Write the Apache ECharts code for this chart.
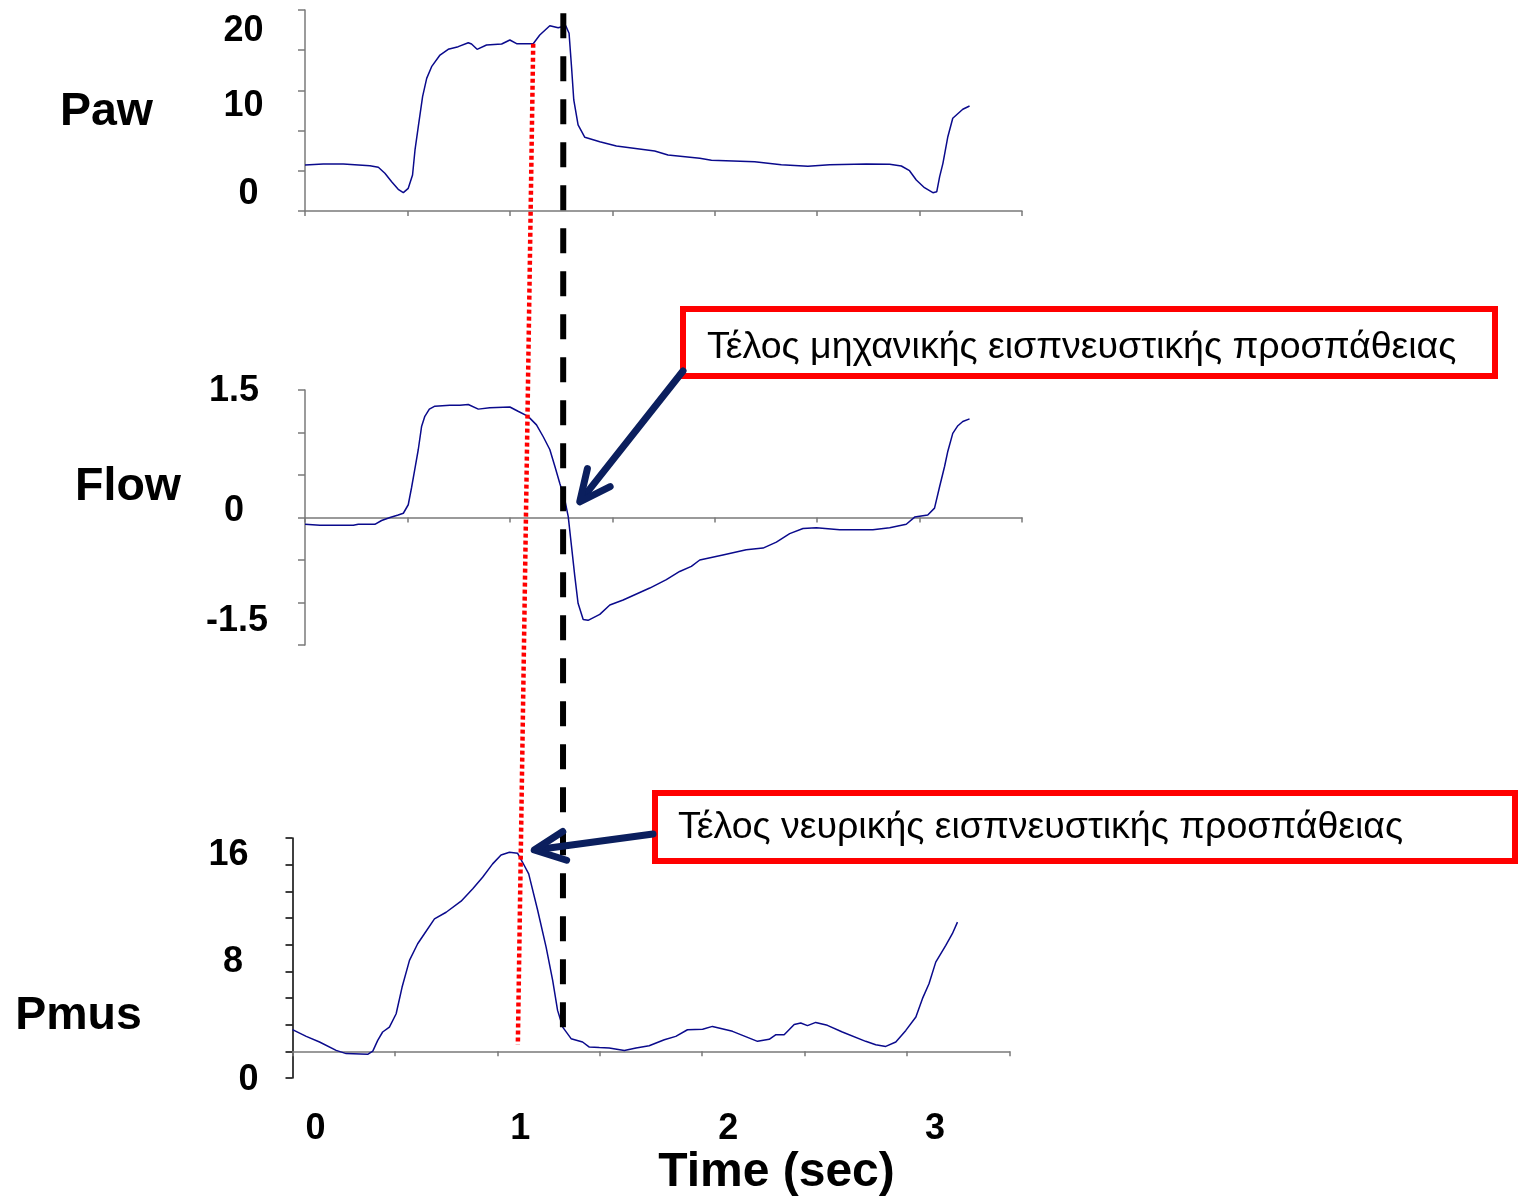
<!DOCTYPE html>
<html>
<head>
<meta charset="utf-8">
<title>Paw / Flow / Pmus</title>
<script src="https://cdn.jsdelivr.net/npm/echarts@6/dist/echarts.min.js"></script>
<style>
  html, body { margin: 0; padding: 0; background: #fff; }
  #chart { width: 1520px; height: 1201px; }
</style>
</head>
<body>
<div id="chart"></div>
<script>
// ---- data (time in sec from the start of each trace) ----
const pawTime = [0, 0.089, 0.187, 0.317, 0.358, 0.39, 0.423, 0.455, 0.48, 0.504, 0.525, 0.537, 0.553, 0.574, 0.594,
  0.618, 0.659, 0.699, 0.748, 0.797, 0.813, 0.84, 0.886, 0.96, 1.0, 1.033, 1.114, 1.146, 1.195, 1.236,
  1.273, 1.289, 1.301, 1.312, 1.333, 1.366, 1.439, 1.52, 1.707, 1.772, 1.927, 1.984, 2.195, 2.325, 2.455,
  2.561, 2.74, 2.854, 2.911, 2.951, 2.984, 3.024, 3.065, 3.084, 3.098, 3.114, 3.138, 3.162, 3.211, 3.244];
const pawValue = [5.72, 5.85, 5.85, 5.63, 5.44, 4.69, 3.64, 2.70, 2.28, 2.82, 4.48, 7.59, 10.49, 14.22, 16.5,
  17.95, 19.4, 20.11, 20.44, 20.93, 20.77, 20.11, 20.65, 20.77, 21.27, 20.81, 20.81, 21.89, 23.05, 22.8,
  23.05, 22.1, 17.95, 13.81, 10.7, 9.17, 8.62, 8.08, 7.46, 6.97, 6.55, 6.31, 6.13, 5.76, 5.56,
  5.76, 5.85, 5.81, 5.6, 5.01, 3.86, 2.9, 2.28, 2.4, 4.27, 5.93, 9.24, 11.53, 12.65, 13.06];

const flowTime = [0, 0.073, 0.236, 0.26, 0.341, 0.374, 0.415, 0.455, 0.48, 0.504, 0.52, 0.537, 0.553, 0.569, 0.585,
  0.607, 0.634, 0.707, 0.756, 0.797, 0.846, 0.902, 1.0, 1.04, 1.089, 1.13, 1.163, 1.195, 1.22, 1.244,
  1.268, 1.285, 1.301, 1.317, 1.333, 1.358, 1.382, 1.439, 1.488, 1.553, 1.683, 1.764, 1.829, 1.886, 1.927,
  2.04, 2.154, 2.236, 2.301, 2.366, 2.431, 2.496, 2.61, 2.772, 2.854, 2.935, 2.976, 3.04, 3.073, 3.098,
  3.122, 3.138, 3.162, 3.187, 3.211, 3.244];
const flowValue = [-0.08, -0.09, -0.09, -0.08, -0.08, -0.035, 0, 0.03, 0.05, 0.15, 0.35, 0.58, 0.8, 1.07, 1.19,
  1.275, 1.31, 1.32, 1.32, 1.33, 1.275, 1.29, 1.3, 1.25, 1.19, 1.09, 0.95, 0.8, 0.6, 0.4,
  0.21, 0.01, -0.34, -0.69, -1.01, -1.2, -1.21, -1.14, -1.03, -0.97, -0.83, -0.73, -0.635, -0.575, -0.5,
  -0.44, -0.38, -0.36, -0.29, -0.19, -0.13, -0.12, -0.145, -0.145, -0.12, -0.08, 0.005, 0.03, 0.11, 0.365,
  0.6, 0.78, 0.99, 1.08, 1.13, 1.16];

const pmusTime = [0, 0.067, 0.132, 0.213, 0.262, 0.367, 0.392, 0.416, 0.44, 0.473, 0.506, 0.535, 0.571, 0.611, 0.644,
  0.693, 0.75, 0.823, 0.88, 0.928, 0.977, 1.018, 1.059, 1.099, 1.123, 1.153, 1.197, 1.238, 1.27, 1.294,
  1.319, 1.36, 1.416, 1.449, 1.498, 1.546, 1.62, 1.677, 1.741, 1.815, 1.871, 1.928, 2.002, 2.05, 2.148,
  2.27, 2.327, 2.36, 2.4, 2.449, 2.481, 2.514, 2.554, 2.611, 2.684, 2.798, 2.847, 2.896, 2.945, 2.994,
  3.043, 3.075, 3.107, 3.14, 3.189, 3.221, 3.246];
const pmusValue = [1.63, 1.12, 0.7, 0.07, -0.17, -0.22, 0.02, 0.82, 1.45, 1.82, 2.82, 4.82, 6.82, 8.07, 8.82,
  9.94, 10.43, 11.26, 12.19, 13.06, 14.06, 14.73, 14.93, 14.85, 14.18, 13.31, 10.56, 7.81, 5.32, 3.07,
  1.82, 0.95, 0.7, 0.32, 0.28, 0.25, 0.07, 0.25, 0.42, 0.87, 1.12, 1.62, 1.65, 1.87, 1.5,
  0.75, 0.9, 1.25, 1.25, 2.02, 2.12, 1.93, 2.17, 1.95, 1.45, 0.75, 0.5, 0.37, 0.7, 1.57,
  2.57, 3.95, 5.07, 6.69, 7.94, 8.82, 9.69];

// tick labels shown on the slide
const timeLabels = [0, 1, 2, 3];
const pawLabels = [0, 10, 20];
const flowLabels = [-1.5, 0, 1.5];
const pmusLabels = [0, 8, 16];

// annotation anchors, [time, value] in the panel they sit in
const neuralEndPaw = [1.114, 20.81];   // red dotted line starts on Paw
const neuralEndPmus = [1.10, 0.5];     // ... and ends in the Pmus panel
const mechEndPaw = [1.261, 24.6];      // black dashed line
const mechEndPmus = [1.32, 0.6];
const mechArrowTip = [1.341, 0.185];   // Flow panel
const neuralArrowTip = [1.18, 15.1];   // Pmus panel

const mechText = 'Τέλος μηχανικής εισπνευστικής προσπάθειας';
const neuralText = 'Τέλος νευρικής εισπνευστικής προσπάθειας';

// ---- styling helpers ----
const FONT = '"Liberation Sans", Arial, sans-serif';
const NAVY = '#0b1f5e';
const TRACE = '#0a0a8c';
const GREY = '#7a7a7a';

const zip = (xs, ys) => xs.map((x, i) => [x, ys[i]]);

// shift a single axis label by (dx, dy) px using rich-text padding
function nudge(dx, dy) {
  return {
    fontSize: 36, fontWeight: 'bold', fontFamily: FONT, color: '#000',
    padding: [dy > 0 ? 2 * dy : 0, dx < 0 ? -2 * dx : 0, dy < 0 ? -2 * dy : 0, dx > 0 ? 2 * dx : 0]
  };
}
function richLabels(values, shifts) {
  const rich = {};
  values.forEach((v, i) => { rich['k' + i] = nudge(shifts[i][0], shifts[i][1]); });
  return {
    rich,
    formatter: (val) => {
      const i = values.findIndex(v => Math.abs(v - val) < 1e-6);
      return i < 0 ? '' : '{k' + i + '|' + val + '}';
    }
  };
}

function xAxisFor(gridIndex, color) {
  return {
    type: 'value', gridIndex, min: 0, max: 3.5, interval: 0.5,
    axisLine: { onZero: true, lineStyle: { color, width: 1.5 } },
    axisTick: { length: 5, lineStyle: { color, width: 1.5 } },
    axisLabel: { show: false },
    splitLine: { show: false }
  };
}
function yAxisFor(gridIndex, min, max, interval, color, margin, labels, shifts) {
  const rl = richLabels(labels, shifts);
  return {
    type: 'value', gridIndex, min, max, interval,
    axisLine: { show: true, onZero: false, lineStyle: { color, width: 1.5 } },
    axisTick: { show: true, length: 7, lineStyle: { color, width: 1.5 } },
    axisLabel: {
      customValues: labels, align: 'center', verticalAlign: 'middle', margin,
      formatter: rl.formatter, rich: rl.rich
    },
    splitLine: { show: false }
  };
}

const pmusX = xAxisFor(2, GREY);
const timeRich = richLabels(timeLabels, [[23, 0], [23, 0], [26, 0], [28, 0]]);
pmusX.axisLabel = {
  show: true, customValues: timeLabels, align: 'center', verticalAlign: 'middle', margin: 51,
  formatter: timeRich.formatter, rich: timeRich.rich
};

const lineSeries = (idx, data) => ({
  type: 'line', xAxisIndex: idx, yAxisIndex: idx, data, showSymbol: false, symbol: 'none',
  lineStyle: { color: TRACE, width: 1.5 }, silent: true
});

const option = {
  animation: false,
  backgroundColor: '#fff',
  grid: [
    { left: 305, top: 10, width: 717, height: 201, outerBoundsMode: 'none' },
    { left: 305, top: 390, width: 717, height: 255, outerBoundsMode: 'none' },
    { left: 292.5, top: 838, width: 717, height: 240, outerBoundsMode: 'none' }
  ],
  xAxis: [xAxisFor(0, GREY), xAxisFor(1, GREY), pmusX],
  yAxis: [
    yAxisFor(0, 0, 25, 5, GREY, 61.5, pawLabels, [[5, -17], [0, -24.5], [0, -19.5]]),
    yAxisFor(1, -1.5, 1.5, 0.5, GREY, 71, flowLabels, [[3, -24], [0, -6], [0, 1.5]]),
    yAxisFor(2, -2, 16, 2, '#000', 59.5, pmusLabels, [[15.5, 28.5], [0, 17], [-4.5, 17.5]])
  ],
  series: [
    lineSeries(0, zip(pawTime, pawValue)),
    lineSeries(1, zip(flowTime, flowValue)),
    lineSeries(2, zip(pmusTime, pmusValue))
  ]
};

const chart = echarts.init(document.getElementById('chart'), null, { renderer: 'canvas' });
chart.setOption(option);

// ---- annotations, anchored through the panels' own scales ----
const px = (gridIndex, pt) => chart.convertToPixel({ gridIndex }, pt);

function arrow(tail, tip) {
  const ang = Math.atan2(tail[1] - tip[1], tail[0] - tip[0]);
  const L = 34, spread = 0.44;
  const wing = (a) => [tip[0] + L * Math.cos(a), tip[1] + L * Math.sin(a)];
  const shaftEnd = [tip[0] + 4 * Math.cos(ang), tip[1] + 4 * Math.sin(ang)];
  return [
    { type: 'line', z: 20, shape: { x1: tail[0], y1: tail[1], x2: shaftEnd[0], y2: shaftEnd[1] },
      style: { stroke: NAVY, lineWidth: 7, lineCap: 'round' } },
    { type: 'polyline', z: 20, shape: { points: [wing(ang + spread), tip, wing(ang - spread)] },
      style: { stroke: NAVY, fill: null, lineWidth: 7, lineCap: 'round', lineJoin: 'round' } }
  ];
}

const boxMech = { x: 683, y: 309, width: 812, height: 67 };
const boxNeural = { x: 655, y: 793, width: 860, height: 68 };

const nTop = px(0, neuralEndPaw), nBot = px(2, neuralEndPmus);
const mTop = px(0, mechEndPaw), mBot = px(2, mechEndPmus);

const titleStyle = (text, size) => ({ text, font: 'bold ' + size + 'px ' + FONT, fill: '#000', align: 'center', verticalAlign: 'middle' });

chart.setOption({
  graphic: [
    { type: 'text', x: 106.5, y: 112.5, style: titleStyle('Paw', 46.5) },
    { type: 'text', x: 128, y: 487, style: titleStyle('Flow', 46.5) },
    { type: 'text', x: 78.5, y: 1016, style: titleStyle('Pmus', 46.5) },
    { type: 'text', x: 776.5, y: 1173, style: titleStyle('Time (sec)', 48) },

    { type: 'line', z: 15, shape: { x1: nTop[0], y1: nTop[1], x2: nBot[0], y2: nBot[1] },
      style: { stroke: '#ff0000', lineWidth: 4.5, lineDash: [4, 3] } },
    { type: 'line', z: 16, shape: { x1: mTop[0], y1: mTop[1], x2: mBot[0], y2: mBot[1] },
      style: { stroke: '#000', lineWidth: 6, lineDash: [25, 18] } },

    { type: 'rect', z: 18, shape: boxMech, style: { stroke: '#ff0000', lineWidth: 6, fill: '#fff' } },
    { type: 'text', z: 19, x: 707, y: 348,
      style: { text: mechText, font: '37.5px ' + FONT, fill: '#000', align: 'left', verticalAlign: 'middle' } },
    { type: 'rect', z: 18, shape: boxNeural, style: { stroke: '#ff0000', lineWidth: 6, fill: '#fff' } },
    { type: 'text', z: 19, x: 678, y: 828,
      style: { text: neuralText, font: '37.5px ' + FONT, fill: '#000', align: 'left', verticalAlign: 'middle' } },

    ...arrow([boxMech.x, boxMech.y + boxMech.height - 5], px(1, mechArrowTip)),
    ...arrow([boxNeural.x - 2, boxNeural.y + 41], px(2, neuralArrowTip))
  ]
});

window.addEventListener('resize', () => chart.resize());
</script>
</body>
</html>
